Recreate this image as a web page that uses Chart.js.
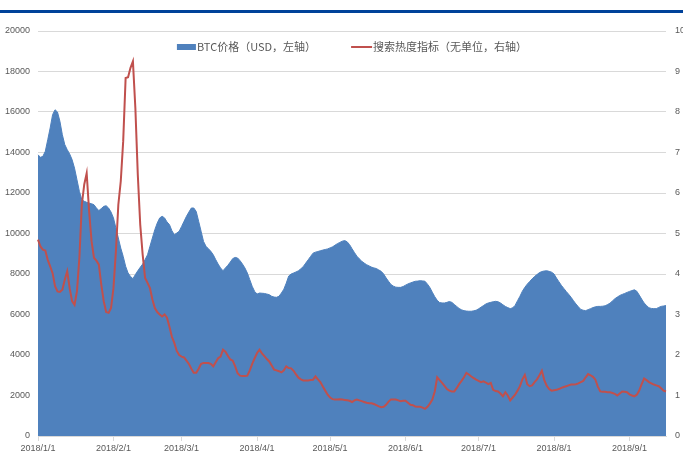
<!DOCTYPE html>
<html>
<head>
<meta charset="utf-8">
<script src="https://cdn.jsdelivr.net/npm/chart.js@4.4.1/dist/chart.umd.min.js"></script>
<style>
  html, body { margin: 0; padding: 0; background: #fff; }
  #wrap { position: relative; width: 683px; height: 462px; }
  #band { position: absolute; left: 0; top: 10px; width: 683px; height: 3px; background: #00429a; }
  canvas { position: absolute; left: 0; top: 0; }
</style>
</head>
<body>
<div id="wrap">
  <div id="band"></div>
  <canvas id="c" width="683" height="462"></canvas>
</div>
<script>
// BTC price (USD, left axis), daily from 2018/1/1
const btcPrice = [
  13890, 13760, 13810, 14060, 14630, 15210, 15870, 16110, 16000, 15540,
  14880, 14390, 14140, 13930, 13650, 13230, 12660, 12080, 11670, 11590,
  11540, 11500, 11470, 11420, 11260, 11130, 11230, 11340, 11370, 11260,
  11060, 10770, 10270, 9780, 9280, 8870, 8380, 8050, 7880, 7770,
  7970, 8160, 8330, 8490, 8710, 8950, 9370, 9780, 10190, 10520,
  10770, 10850, 10770, 10570, 10440, 10140, 9940, 10020, 10110, 10350,
  10600, 10850, 11060, 11260, 11260, 11090, 10600, 10110, 9610, 9370,
  9250, 9120, 8950, 8710, 8490, 8300, 8160, 8300, 8430, 8590,
  8760, 8820, 8790, 8660, 8490, 8300, 8050, 7720, 7390, 7140,
  7010, 7060, 7050, 7040, 7010, 6980, 6900, 6860, 6850, 6900,
  7060, 7250, 7550, 7900, 8000, 8050, 8100, 8160, 8260, 8370,
  8540, 8700, 8870, 9030, 9080, 9110, 9150, 9180, 9210, 9240,
  9290, 9340, 9420, 9500, 9560, 9620, 9650, 9590, 9450, 9250,
  9060, 8880, 8750, 8630, 8540, 8460, 8400, 8340, 8300, 8270,
  8200, 8130, 8000, 7810, 7640, 7480, 7400, 7350, 7340, 7340,
  7380, 7450, 7510, 7560, 7600, 7640, 7650, 7670, 7660, 7640,
  7500, 7330, 7100, 6880, 6700, 6590, 6570, 6570, 6600, 6640,
  6600, 6500, 6400, 6300, 6230, 6190, 6170, 6160, 6160, 6180,
  6210, 6280, 6360, 6440, 6520, 6570, 6600, 6630, 6650, 6630,
  6570, 6480, 6400, 6340, 6290, 6330, 6450, 6680, 6900, 7150,
  7340, 7500, 7630, 7760, 7880, 7970, 8070, 8120, 8150, 8160,
  8130, 8090, 8000, 7800, 7620, 7440, 7290, 7140, 7000, 6850,
  6680, 6520, 6380, 6250, 6210, 6190, 6240, 6290, 6340, 6380,
  6400, 6400, 6410, 6430, 6490, 6560, 6670, 6780, 6860, 6940,
  6990, 7040, 7090, 7140, 7180, 7220, 7150, 6960, 6760, 6570,
  6450, 6330, 6300, 6290, 6290, 6350, 6400, 6420, 6440
];

// search heat index (no unit, right axis)
const searchIndex = [
  4.85, 4.68, 4.60, 4.58, 4.35, 4.19, 4.02, 3.70, 3.57, 3.56,
  3.61, 3.86, 4.07, 3.65, 3.33, 3.24, 3.57, 4.40, 5.71, 6.21,
  6.49, 5.55, 4.81, 4.40, 4.33, 4.23, 3.74, 3.33, 3.06, 3.04,
  3.16, 3.65, 4.56, 5.71, 6.29, 7.28, 8.84, 8.86, 9.09, 9.25,
  8.10, 6.45, 5.22, 4.48, 3.90, 3.78, 3.65, 3.37, 3.16, 3.06,
  3.00, 2.95, 3.00, 2.92, 2.70, 2.45, 2.30, 2.10, 2.00, 1.96,
  1.94, 1.86, 1.78, 1.66, 1.56, 1.56, 1.66, 1.78, 1.80, 1.80,
  1.80, 1.78, 1.72, 1.82, 1.92, 1.96, 2.13, 2.08, 1.98, 1.89,
  1.86, 1.72, 1.55, 1.49, 1.48, 1.48, 1.49, 1.62, 1.78, 1.92,
  2.05, 2.13, 2.04, 1.97, 1.90, 1.84, 1.74, 1.64, 1.62, 1.60,
  1.57, 1.62, 1.72, 1.68, 1.67, 1.61, 1.52, 1.44, 1.40, 1.37,
  1.37, 1.37, 1.38, 1.39, 1.47, 1.40, 1.33, 1.22, 1.12, 1.02,
  0.95, 0.91, 0.90, 0.90, 0.91, 0.90, 0.89, 0.88, 0.87, 0.84,
  0.88, 0.90, 0.88, 0.86, 0.84, 0.82, 0.81, 0.81, 0.79, 0.76,
  0.73, 0.71, 0.72, 0.77, 0.85, 0.90, 0.90, 0.90, 0.88, 0.86,
  0.87, 0.87, 0.82, 0.77, 0.76, 0.73, 0.72, 0.72, 0.70, 0.67,
  0.72, 0.80, 0.90, 1.10, 1.45, 1.38, 1.31, 1.24, 1.16, 1.12,
  1.10, 1.10, 1.18, 1.28, 1.36, 1.45, 1.56, 1.52, 1.47, 1.43,
  1.39, 1.36, 1.33, 1.35, 1.32, 1.28, 1.31, 1.14, 1.11, 1.10,
  1.05, 0.98, 1.08, 1.00, 0.88, 0.95, 1.02, 1.12, 1.23, 1.40,
  1.51, 1.28, 1.23, 1.25, 1.33, 1.40, 1.50, 1.61, 1.38, 1.24,
  1.16, 1.12, 1.13, 1.14, 1.16, 1.19, 1.21, 1.23, 1.25, 1.27,
  1.27, 1.28, 1.30, 1.33, 1.36, 1.45, 1.53, 1.50, 1.46, 1.39,
  1.22, 1.10, 1.09, 1.09, 1.08, 1.08, 1.06, 1.04, 1.00, 1.05,
  1.10, 1.09, 1.08, 1.03, 1.00, 0.98, 1.02, 1.12, 1.28, 1.42,
  1.38, 1.33, 1.30, 1.27, 1.25, 1.23, 1.18, 1.12, 1.10
];

// daily category labels, 2018/1/1 onwards
const dates = [];
for (let i = 0; i < btcPrice.length; i++) {
  const d = new Date(Date.UTC(2018, 0, 1 + i));
  dates.push(d.getUTCFullYear() + '/' + (d.getUTCMonth() + 1) + '/' + d.getUTCDate());
}

const seriesNames = ['BTC价格（USD，左轴）', '搜索热度指标（无单位，右轴）'];
const leftTicks = { min: 0, max: 20000, step: 2000 };
const rightTicks = { min: 0, max: 10, step: 1 };

const BLUE = '#4f81bd';
const RED = '#c0504d';
const GREY = '#595959';
const tickFont = { family: '"Liberation Sans", Arial, sans-serif', size: 9 };

// legend drawn inside the plot, like the original
const topLegend = {
  id: 'topLegend',
  afterDatasetsDraw(chart) {
    const ctx = chart.ctx;
    const area = chart.chartArea;
    ctx.save();
    ctx.font = '11px "Noto Sans CJK SC", sans-serif';
    ctx.textBaseline = 'middle';
    const w1 = ctx.measureText(seriesNames[0]).width;
    const w2 = ctx.measureText(seriesNames[1]).width;
    const boxW = 19, lineW = 21, gap = 35;
    const total = boxW + 1 + w1 + gap + lineW + 1 + w2;
    let x = (area.left + area.right) / 2 - total / 2;
    const y = area.top + 16;
    ctx.fillStyle = BLUE;
    ctx.fillRect(x, y - 3, boxW, 6);
    x += boxW + 1;
    ctx.fillStyle = GREY;
    ctx.fillText(seriesNames[0], x, y);
    x += w1 + gap;
    ctx.strokeStyle = RED;
    ctx.lineWidth = 2;
    ctx.beginPath();
    ctx.moveTo(x, y);
    ctx.lineTo(x + lineW, y);
    ctx.stroke();
    x += lineW + 1;
    ctx.fillText(seriesNames[1], x, y);
    ctx.restore();
  }
};

const plainNumber = v => String(v);

new Chart(document.getElementById('c'), {
  type: 'line',
  data: {
    labels: dates,
    datasets: [
      {
        label: seriesNames[1],
        data: searchIndex,
        yAxisID: 'y2',
        borderColor: RED,
        borderWidth: 2,
        pointRadius: 0,
        fill: false,
        tension: 0,
        order: 0
      },
      {
        label: seriesNames[0],
        data: btcPrice,
        yAxisID: 'y',
        borderColor: BLUE,
        backgroundColor: BLUE,
        borderWidth: 1,
        pointRadius: 0,
        fill: 'origin',
        tension: 0,
        order: 1
      }
    ]
  },
  options: {
    responsive: false,
    animation: false,
    layout: { padding: { top: 31, left: 0, right: 0, bottom: 0 } },
    plugins: {
      legend: { display: false },
      tooltip: { enabled: false }
    },
    scales: {
      x: {
        type: 'category',
        offset: false,
        afterFit: s => { s.height = 26; },
        border: { color: '#d9d9d9' },
        grid: {
          drawOnChartArea: false,
          tickLength: 5,
          color: ctx => (ctx.tick && ctx.tick.label ? '#d9d9d9' : 'rgba(0,0,0,0)')
        },
        ticks: {
          autoSkip: false,
          maxRotation: 0,
          minRotation: 0,
          padding: 2,
          color: GREY,
          font: tickFont,
          callback: function (val) {
            const l = this.getLabelForValue(val);
            return l.endsWith('/1') ? l : null;
          }
        }
      },
      y: {
        position: 'left',
        min: leftTicks.min,
        max: leftTicks.max,
        afterFit: s => { s.width = 38; },
        border: { display: false },
        grid: { color: '#d9d9d9', drawTicks: false },
        ticks: { stepSize: leftTicks.step, padding: 8, color: GREY, font: tickFont, callback: plainNumber }
      },
      y2: {
        position: 'right',
        min: rightTicks.min,
        max: rightTicks.max,
        afterFit: s => { s.width = 17; },
        border: { display: false },
        grid: { drawOnChartArea: false, drawTicks: false },
        ticks: { stepSize: rightTicks.step, padding: 9, color: GREY, font: tickFont, callback: plainNumber }
      }
    }
  },
  plugins: [topLegend]
});
</script>
</body>
</html>
